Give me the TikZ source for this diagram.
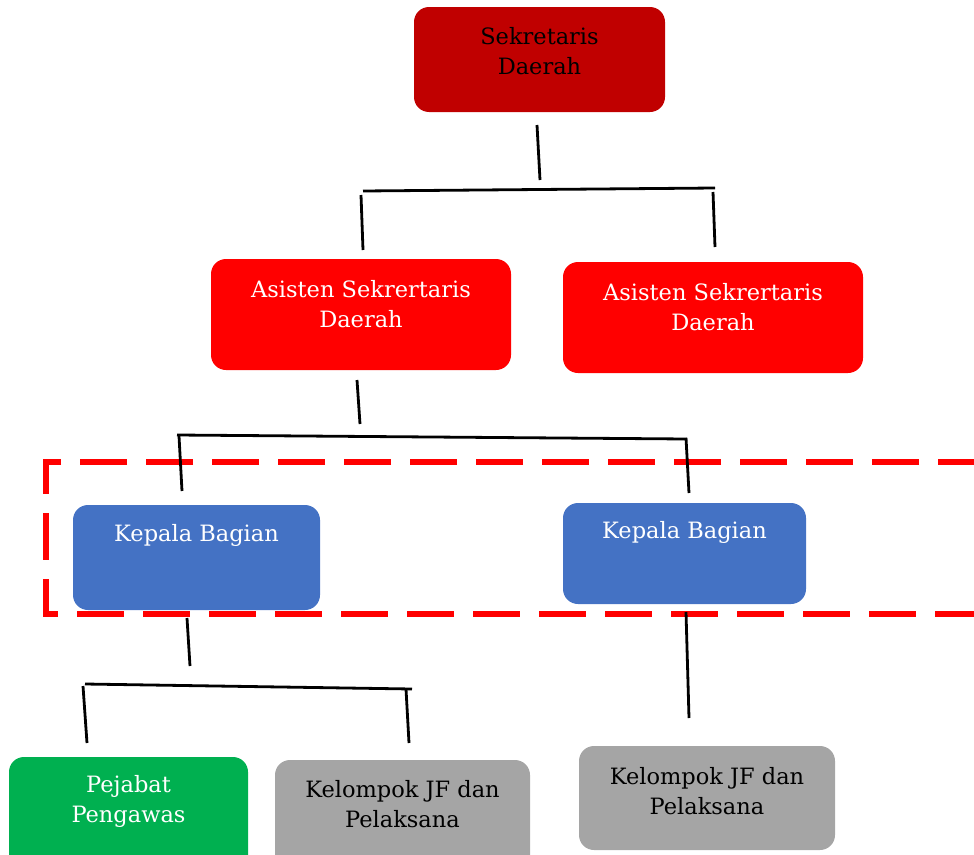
\documentclass[tikz,border=0pt]{standalone}
\usepackage{fontspec}
\setmainfont{DejaVu Serif}
\begin{document}
\begin{tikzpicture}[x=1pt,y=-1pt,
  lbl/.style={align=center,font=\fontsize{22.5}{30}\selectfont,inner sep=0pt},
  wire/.style={line width=2.8pt,black},
  frame/.style={line width=5.5pt,red,dash pattern=on 47pt off 19pt}]
\useasboundingbox (0,0) rectangle (974,854);
\definecolor{darkred}{HTML}{C00000}
\definecolor{bluebox}{HTML}{4472C4}
\definecolor{greenbox}{HTML}{00B050}
\definecolor{greybox}{HTML}{A5A5A5}

% dashed frame around the section heads (runs off the right edge)
\draw[frame] (985,462) -- (46,462) -- (46,614) -- (985,614);

% boxes
\fill[darkred,rounded corners=15pt] (414,7) rectangle (665,112);
\node[lbl,text=black] (sekda) at (539.5,51) {Sekretaris\\Daerah};

\fill[red,rounded corners=15pt] (211,259) rectangle (511,370);
\node[lbl,text=white] (asl) at (361,304) {Asisten Sekrertaris\\Daerah};
\fill[red,rounded corners=15pt] (563,262) rectangle (863,373);
\node[lbl,text=white] (asr) at (713,307) {Asisten Sekrertaris\\Daerah};

\fill[bluebox,rounded corners=15pt] (73,505) rectangle (320,610);
\node[lbl,text=white] (kbl) at (196.5,535) {Kepala Bagian};
\fill[bluebox,rounded corners=15pt] (563,503) rectangle (806,604);
\node[lbl,text=white] (kbr) at (684.5,532) {Kepala Bagian};

\fill[greenbox,rounded corners=15pt] (9,757) rectangle (248,870);
\node[lbl,text=white] (pp) at (128.5,801) {Pejabat\\Pengawas};
\fill[greybox,rounded corners=15pt] (275,760) rectangle (530,870);
\node[lbl,text=black] (jfl) at (402.5,804) {Kelompok JF dan\\Pelaksana};
\fill[greybox,rounded corners=15pt] (579,746) rectangle (835,850);
\node[lbl,text=black] (jfr) at (707,791) {Kelompok JF dan\\Pelaksana};

% connector points
\coordinate (a1) at (537,125);  \coordinate (a2) at (540,180);
\coordinate (b1) at (363,191);  \coordinate (b2) at (715,188);
\coordinate (c1) at (361,195);  \coordinate (c2) at (363,250);
\coordinate (d1) at (713,192);  \coordinate (d2) at (715,247);
\coordinate (e1) at (357,380);  \coordinate (e2) at (360,424);
\coordinate (f1) at (177,435);  \coordinate (f2) at (687,439);
\coordinate (g1) at (179,436);  \coordinate (g2) at (182,491);
\coordinate (h1) at (686,438);  \coordinate (h2) at (689,493);
\coordinate (i1) at (187,618);  \coordinate (i2) at (190,666);
\coordinate (j1) at (85,684);   \coordinate (j2) at (412,689);
\coordinate (k1) at (83,686);   \coordinate (k2) at (87,743);
\coordinate (l1) at (406,689);  \coordinate (l2) at (409,743);
\coordinate (m1) at (686,612);  \coordinate (m2) at (689,718);

\foreach \p/\q in {a1/a2,b1/b2,c1/c2,d1/d2,e1/e2,f1/f2,g1/g2,h1/h2,i1/i2,j1/j2,k1/k2,l1/l2,m1/m2}
  \draw[wire] (\p) -- (\q);
\end{tikzpicture}
\end{document}
